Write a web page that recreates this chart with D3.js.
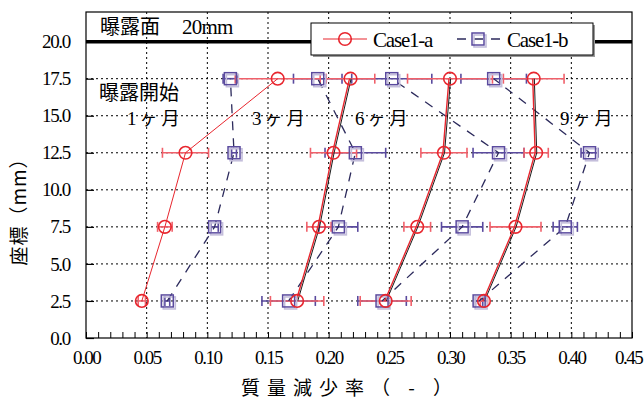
<!DOCTYPE html>
<html>
<head>
<meta charset="utf-8">
<script src="https://cdn.jsdelivr.net/npm/d3@7"></script>
<style>
  html, body { margin: 0; padding: 0; background: #fff; }
  svg { display: block; }
  .num { font-family: "Liberation Serif", "DejaVu Serif", serif; }
  .jp { font-family: "Noto Sans CJK JP", sans-serif; }
</style>
</head>
<body>
<svg id="chart" width="644" height="407"></svg>
<script>
// Depth positions of the measured slices (mm)
const depths = [2.5, 7.5, 12.5, 17.5];
const periods = ["1ヶ月", "3ヶ月", "6ヶ月", "9ヶ月"];
const seriesNames = ["Case1-a", "Case1-b"];

// Case1-a: mass loss ratio by depth, for each exposure period
const caseA_1 = [0.046, 0.065, 0.082, 0.158];
const caseA_3 = [0.174, 0.192, 0.204, 0.218];
const caseA_6 = [0.247, 0.273, 0.295, 0.300];
const caseA_9 = [0.328, 0.354, 0.371, 0.369];
const errA_1 = [0.003, 0.006, 0.019, 0.035];
const errA_3 = [0.022, 0.010, 0.019, 0.020];
const errA_6 = [0.021, 0.011, 0.019, 0.035];
const errA_9 = [0.003, 0.021, 0.010, 0.025];

// Case1-b
const caseB_1 = [0.067, 0.106, 0.122, 0.119];
const caseB_3 = [0.167, 0.208, 0.222, 0.191];
const caseB_6 = [0.244, 0.310, 0.340, 0.252];
const caseB_9 = [0.324, 0.395, 0.415, 0.336];
const errB_1 = [0.002, 0.003, 0.002, 0.006];
const errB_3 = [0.022, 0.016, 0.025, 0.020];
const errB_6 = [0.020, 0.017, 0.021, 0.033];
const errB_9 = [0.003, 0.010, 0.007, 0.027];

const xTicks = [0, 0.05, 0.10, 0.15, 0.20, 0.25, 0.30, 0.35, 0.40, 0.45];
const yTicks = [0, 2.5, 5, 7.5, 10, 12.5, 15, 17.5, 20];
const surfaceDepth = 20;

const RED = "#e8262e", RED_BAR = "#f0606a", PURPLE = "#5a4a9e", NAVY = "#2c2a5c";

const svg = d3.select("#chart");
const L = 86, R = 632, T = 12, B = 338;
const x = d3.scaleLinear().domain([0, 0.45]).range([L, R]);
const y = d3.scaleLinear().domain([0, 22]).range([B, T]);

// grid
const grid = svg.append("g");
grid.selectAll("line.vx").data(xTicks.slice(1, -1)).join("line")
  .attr("x1", d => x(d)).attr("x2", d => x(d)).attr("y1", T).attr("y2", B)
  .attr("stroke", "#000").attr("stroke-width", 1).attr("stroke-dasharray", "2,3");
grid.selectAll("line.hy").data(yTicks.slice(1, -1)).join("line")
  .attr("x1", L).attr("x2", R).attr("y1", d => y(d)).attr("y2", d => y(d))
  .attr("stroke", "#000").attr("stroke-width", 1).attr("stroke-dasharray", "2,3");

// exposure surface line
svg.append("line").attr("x1", L).attr("x2", R)
  .attr("y1", y(surfaceDepth)).attr("y2", y(surfaceDepth))
  .attr("stroke", "#000").attr("stroke-width", 3.5);

// frame
svg.append("rect").attr("x", L).attr("y", T).attr("width", R - L).attr("height", B - T)
  .attr("fill", "none").attr("stroke", "#000").attr("stroke-width", 1.2);

// axes
const xMinor = d3.range(0, 0.4501, 0.01);
svg.append("g").attr("transform", `translate(0,${B})`)
  .call(d3.axisBottom(x).tickValues(xMinor).tickSize(-6).tickFormat(""))
  .call(g => { g.select(".domain").remove(); g.selectAll("line").attr("stroke-width", 1); });
svg.append("g").attr("transform", `translate(0,${B})`)
  .call(d3.axisBottom(x).tickValues(xTicks).tickSize(0).tickPadding(13).tickFormat(d3.format(".2f")))
  .call(g => {
    g.select(".domain").remove();
    g.selectAll("text").attr("class", "num").attr("font-size", 19)
      .attr("letter-spacing", "-1.5").attr("fill", "#000");
    g.selectAll("text").filter(d => d === 0.45).attr("dx", -4);
  });
svg.append("g").attr("transform", `translate(${L},0)`)
  .call(d3.axisLeft(y).tickValues(yTicks).tickSize(-8).tickPadding(16).tickFormat(d3.format(".1f")))
  .call(g => {
    g.select(".domain").remove();
    g.selectAll("line").attr("stroke-width", 1.2);
    g.selectAll("text").attr("class", "num").attr("font-size", 19)
      .attr("letter-spacing", "-1.3").attr("fill", "#000");
  });

// axis titles
svg.append("text").attr("class", "jp").attr("x", 350).attr("y", 395)
  .attr("text-anchor", "middle").attr("font-size", 19).attr("letter-spacing", "7")
  .text("質量減少率（ - ）");
svg.append("text").attr("class", "jp")
  .attr("transform", "translate(26,207) rotate(-90)")
  .attr("text-anchor", "middle").attr("font-size", 19).attr("letter-spacing", "1")
  .text("座標（mm）");

// data assembly
const groupsA = [caseA_1, caseA_3, caseA_6, caseA_9].map((v, i) =>
  depths.map((d, j) => ({ depth: d, v: v[j], e: [errA_1, errA_3, errA_6, errA_9][i][j], period: i })));
const groupsB = [caseB_1, caseB_3, caseB_6, caseB_9].map((v, i) =>
  depths.map((d, j) => ({ depth: d, v: v[j], e: [errB_1, errB_3, errB_6, errB_9][i][j], period: i })));

function errorBars(g, pts, color) {
  const eb = g.append("g").selectAll("g").data(pts).join("g").attr("stroke", color).attr("stroke-width", 1.6);
  eb.append("line").attr("x1", d => x(d.v - d.e)).attr("x2", d => x(d.v + d.e))
    .attr("y1", d => y(d.depth)).attr("y2", d => y(d.depth));
  eb.append("line").attr("x1", d => x(d.v - d.e)).attr("x2", d => x(d.v - d.e))
    .attr("y1", d => y(d.depth) - 5).attr("y2", d => y(d.depth) + 5);
  eb.append("line").attr("x1", d => x(d.v + d.e)).attr("x2", d => x(d.v + d.e))
    .attr("y1", d => y(d.depth) - 5).attr("y2", d => y(d.depth) + 5);
}

const plot = svg.append("g");
groupsB.forEach(pts => errorBars(plot, pts, PURPLE));
groupsA.forEach(pts => errorBars(plot, pts, RED_BAR));

const line = d3.line().x(d => x(d.v)).y(d => y(d.depth));

// Case1-b dashed profiles
groupsB.forEach(pts => {
  plot.append("path").datum(pts).attr("d", line).attr("fill", "none")
    .attr("stroke", NAVY).attr("stroke-width", 1.3).attr("stroke-dasharray", "9,8");
});
// Case1-a profiles
groupsA.forEach((pts, i) => {
  plot.append("path").datum(pts).attr("d", line).attr("fill", "none")
    .attr("stroke", RED).attr("stroke-width", i === 0 ? 1 : 1.4)
    .attr("transform", i === 0 ? null : "translate(-1,0)");
  if (i > 0) {
    plot.append("path").datum(pts).attr("d", line).attr("fill", "none")
      .attr("stroke", "#1a1a1a").attr("stroke-width", 1).attr("transform", "translate(0.6,0)");
  }
});

// markers
function square(g, cx, cy) {
  g.append("rect").attr("x", cx - 6 + 2).attr("y", cy - 6 + 2).attr("width", 12).attr("height", 12)
    .attr("fill", "none").attr("stroke", "#c4bedb").attr("stroke-width", 1.6);
  g.append("rect").attr("x", cx - 6).attr("y", cy - 6).attr("width", 12).attr("height", 12)
    .attr("fill", "none").attr("stroke", PURPLE).attr("stroke-width", 1.5);
}
function circle(g, cx, cy) {
  g.append("circle").attr("cx", cx).attr("cy", cy).attr("r", 6.3)
    .attr("fill", "none").attr("stroke", RED).attr("stroke-width", 1.6);
}
groupsB.flat().forEach(d => square(plot, x(d.v), y(d.depth)));
groupsA.flat().forEach(d => circle(plot, x(d.v), y(d.depth)));

// annotations
svg.append("text").attr("class", "jp").attr("x", 100).attr("y", 34).attr("font-size", 20).text("曝露面");
svg.append("text").attr("class", "num").attr("x", 182).attr("y", 34).attr("font-size", 21)
  .attr("letter-spacing", "-0.8").text("20mm");
svg.append("text").attr("class", "jp").attr("x", 99).attr("y", 100).attr("font-size", 20).text("曝露開始");
const periodPos = [127, 252, 355, 560];
periods.forEach((p, i) => {
  const t = svg.append("text").attr("x", periodPos[i]).attr("y", 125).attr("font-size", 18);
  t.append("tspan").attr("class", "num").attr("font-size", 19).text(p[0]);
  t.append("tspan").attr("class", "jp").attr("dx", 3).attr("letter-spacing", "4").text(p.slice(1));
});

// legend
const lg = svg.append("g");
lg.append("rect").attr("x", 313).attr("y", 25).attr("width", 282).attr("height", 32).attr("fill", "#9a9a9a");
lg.append("rect").attr("x", 311).attr("y", 23).attr("width", 282).attr("height", 32)
  .attr("fill", "#fff").attr("stroke", "#000").attr("stroke-width", 1);
lg.append("line").attr("x1", 323).attr("x2", 367).attr("y1", 39).attr("y2", 39)
  .attr("stroke", RED).attr("stroke-width", 1.2);
circle(lg, 345, 39);
lg.append("text").attr("class", "num").attr("x", 373).attr("y", 47).attr("font-size", 21)
  .attr("letter-spacing", "-1.2").text(seriesNames[0]);
lg.append("line").attr("x1", 457).attr("x2", 503).attr("y1", 39).attr("y2", 39)
  .attr("stroke", NAVY).attr("stroke-width", 1.3).attr("stroke-dasharray", "9,8");
square(lg, 478, 39);
lg.append("text").attr("class", "num").attr("x", 507).attr("y", 47).attr("font-size", 21)
  .attr("letter-spacing", "-1.2").text(seriesNames[1]);
</script>
</body>
</html>
